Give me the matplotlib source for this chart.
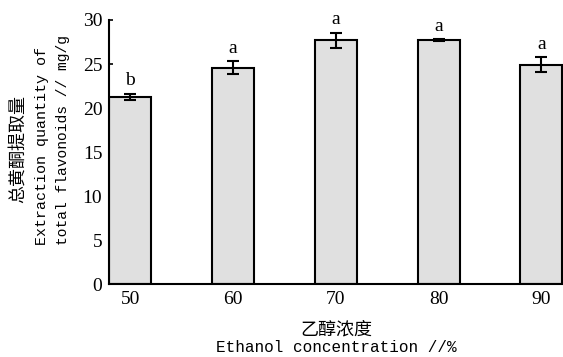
import matplotlib.pyplot as plt

plt.rcParams['font.family'] = ['Liberation Serif', 'Noto Sans CJK SC']

# data
concentration = [50, 60, 70, 80, 90]
extraction = [21.3, 24.6, 27.7, 27.7, 24.9]
errors = [0.35, 0.7, 0.85, 0.1, 0.85]
letters = ["b", "a", "a", "a", "a"]

fig = plt.figure(figsize=(5.63, 3.57), dpi=100)
ax = fig.add_axes([0.194, 0.204, 0.806, 0.74])

ax.bar(concentration, extraction, width=4.1, color="#e0e0e0",
       edgecolor="black", linewidth=1.5, zorder=2)
ax.errorbar(concentration, extraction, yerr=errors, fmt="none",
            ecolor="black", elinewidth=1.5, capsize=4, capthick=1.5, zorder=3)

for x, y, e, lab in zip(concentration, extraction, errors, letters):
    ax.text(x, y + e + 0.5, lab, ha="center", va="bottom", fontsize=14)

ax.set_xlim(47.95, 92.1)
ax.set_ylim(0, 30)
ax.set_xticks(concentration)
ax.set_yticks([0, 5, 10, 15, 20, 25, 30])
ax.tick_params(axis="x", length=0, pad=5, labelsize=14)
ax.tick_params(axis="y", direction="in", length=3, width=1.2, pad=5, labelsize=14)

for side in ["top", "right"]:
    ax.spines[side].set_visible(False)
for side in ["left", "bottom"]:
    ax.spines[side].set_linewidth(1.5)

mono = ['Liberation Mono', 'Noto Sans CJK SC']
cjk = ['Noto Sans CJK SC']

# x label, two lines
fig.text(0.597, 1 - 329 / 357, "乙醇浓度", family=cjk, fontsize=13,
         ha="center", va="center")
fig.text(0.597, 1 - 348 / 357, "Ethanol concentration //%", family=mono,
         fontsize=11.5, ha="center", va="center")

# y label, three lines
fig.text(18 / 563, 1 - 149 / 357, "总黄酮提取量", family=cjk, fontsize=13,
         rotation=90, ha="center", va="center")
fig.text(42 / 563, 1 - 245 / 357, "Extraction quantity of", family=mono,
         fontsize=10.8, rotation=90, rotation_mode="anchor", ha="left", va="center")
fig.text(63 / 563, 1 - 245 / 357, "total flavonoids // mg/g", family=mono,
         fontsize=10.5, rotation=90, rotation_mode="anchor", ha="left", va="center")

plt.savefig("out.png", dpi=100)
